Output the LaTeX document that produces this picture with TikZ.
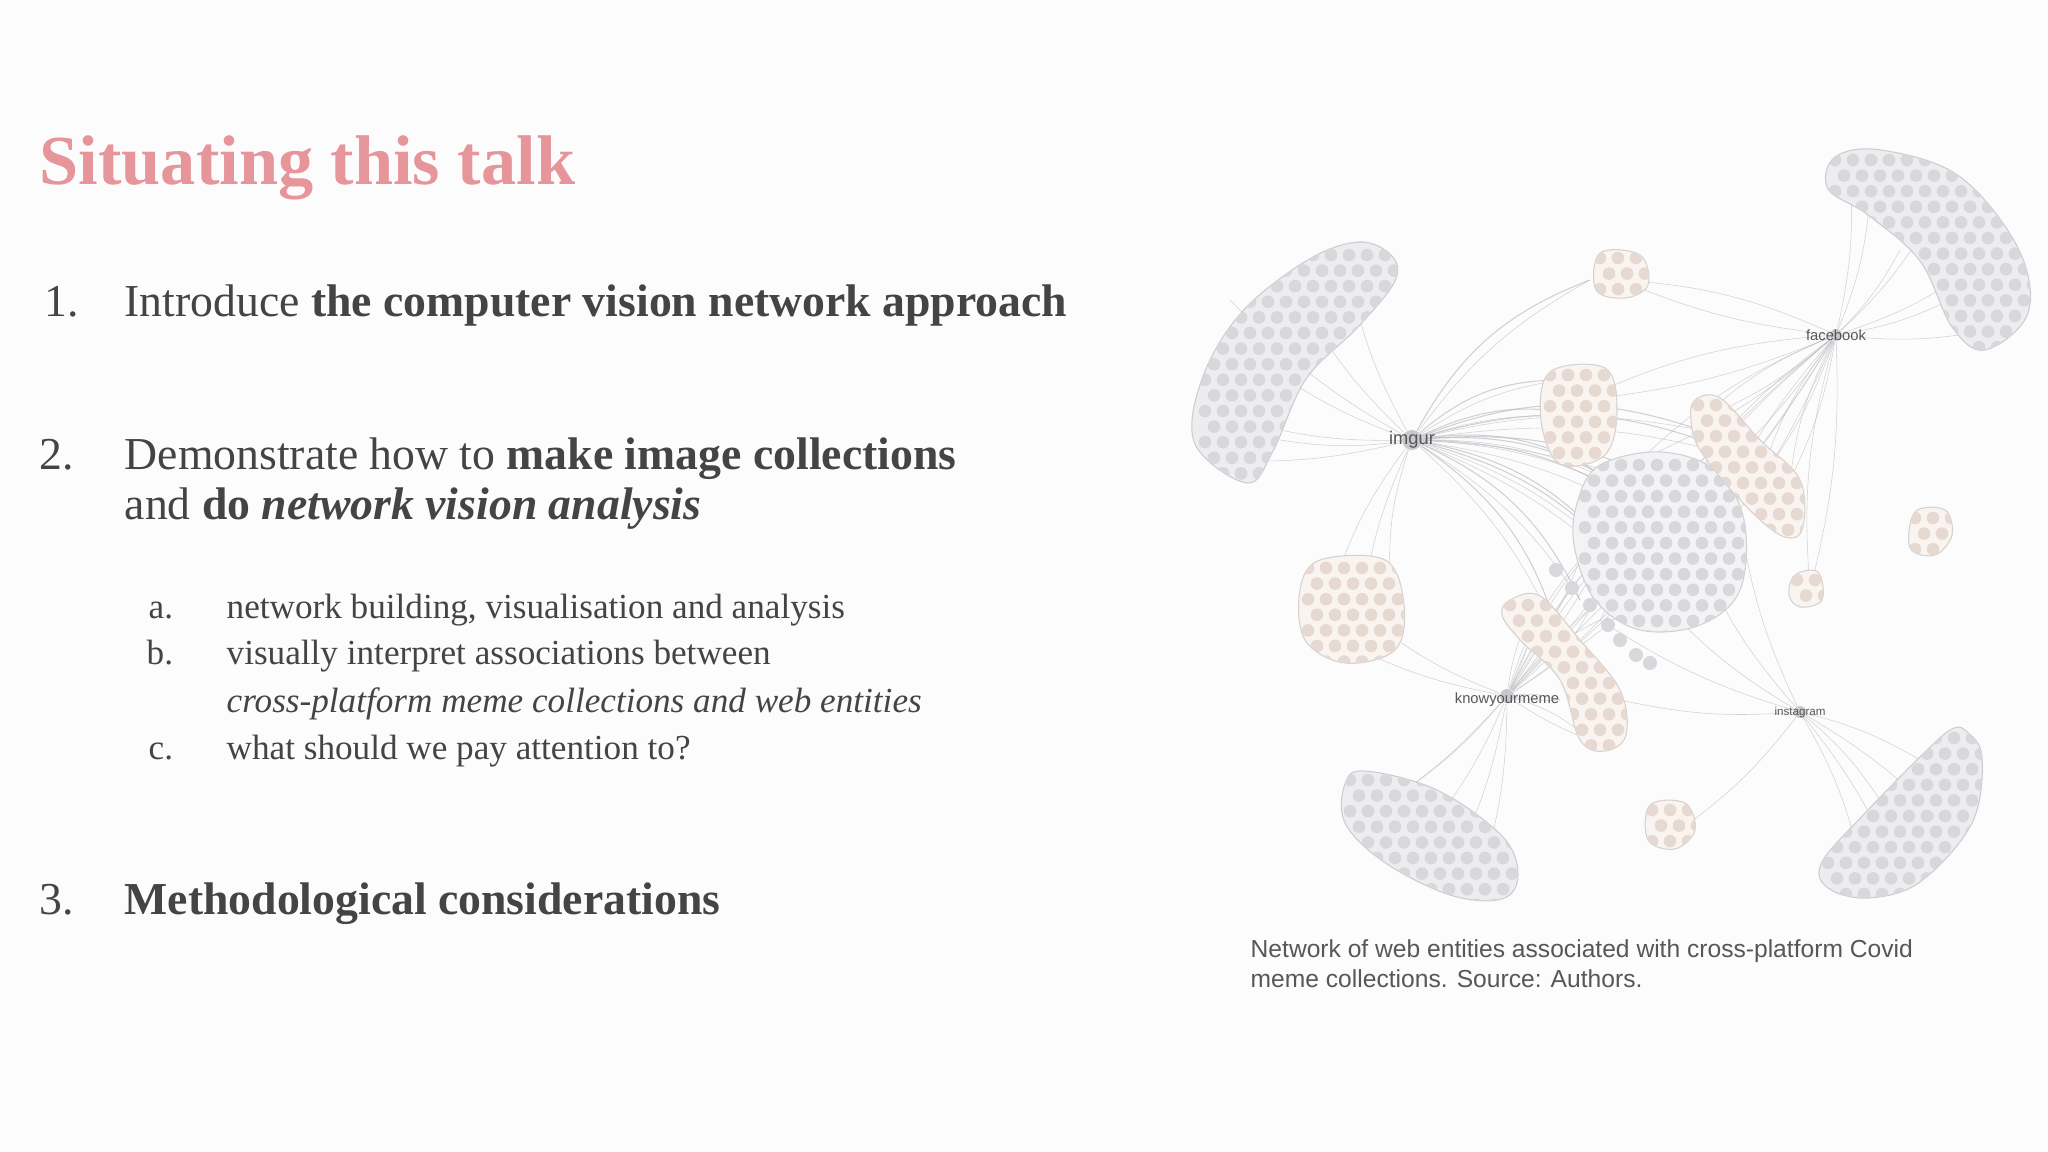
\documentclass[tikz,border=0pt]{standalone}
\usepackage{fontspec}
\setmainfont{Liberation Serif}
\newfontfamily\capfont{Liberation Sans}
\begin{document}
\begin{tikzpicture}[x=0.01cm,y=-0.01cm,
  txt/.style={anchor=base west,inner sep=0,text=textgray},
  edge/.style={draw=edgegray,line width=0.15pt,opacity=0.7},
  hub/.style={circle,fill=hubgray,minimum size=0.2cm,inner sep=0},
  hublab/.style={inner sep=0,text=textgray!90,font=\capfont}]
\definecolor{textgray}{HTML}{444444}
\definecolor{titlepink}{HTML}{E6959A}
\definecolor{bg}{HTML}{FDFCFD}
\definecolor{blobgray}{HTML}{EDEDEF}
\definecolor{blobcenter}{HTML}{F3F3F5}
\definecolor{dotgray}{HTML}{D8D8DC}
\definecolor{blobpink}{HTML}{FAF4F0}
\definecolor{dotpink}{HTML}{E6D9D2}
\definecolor{edgegray}{HTML}{BDBDC2}
\definecolor{hubgray}{HTML}{C9C9CD}
\fill[bg] (0,0) rectangle (2048,1152);
\useasboundingbox (0,0) rectangle (2048,1152);

% ---- text ----
\node[txt,text=titlepink,font=\fontsize{20}{24}\selectfont\bfseries] (title) at (39,185) {Situating this talk};
\begin{scope}[font=\fontsize{13}{16}\selectfont]
\node[txt] (n1) at (44,317) {1.};
\node[txt] (t1) at (124,317) {Introduce \textbf{the computer vision network approach}};
\node[txt] (n2) at (39,470) {2.};
\node[txt] (t2) at (124,470) {Demonstrate how to \textbf{make image collections}};
\node[txt] (t2b) at (124,520) {and \textbf{do \textit{network vision analysis}}};
\node[txt] (n3) at (39,914) {3.};
\node[txt] (t3) at (124,914) {\textbf{Methodological considerations}};
\end{scope}
\begin{scope}[font=\fontsize{10}{12}\selectfont]
\node[txt] (la) at (148,618) {a.};
\node[txt] (a) at (226,618) {network building, visualisation and analysis};
\node[txt] (lb) at (146,665) {b.};
\node[txt] (b) at (226,665) {visually interpret associations between};
\node[txt] (b2) at (226,712) {\textit{cross-platform meme collections and web entities}};
\node[txt] (lc) at (148,759) {c.};
\node[txt] (c) at (226,759) {what should we pay attention to?};
\end{scope}
\node[txt,font=\capfont\fontsize{7}{8}\selectfont,text=textgray!90] (cap1) at (1250,957) {Network of web entities associated with cross-platform Covid};
\node[txt,font=\capfont\fontsize{7}{8}\selectfont,text=textgray!90] (cap2) at (1250,987) {meme collections. Source: Authors.};

% ---- hubs ----
\node[hub] (imgur) at (1412,440) {};
\node[hub,minimum size=0.12cm] (facebook) at (1836,335) {};
\node[hub,minimum size=0.14cm] (kym) at (1507,696) {};
\node[hub,minimum size=0.12cm] (insta) at (1800,712) {};

% ---- edges ----
\foreach \a/\b in {1230/300,1260/360,1300/300,1240/420,1280/440,1350/280,1220/460}
  \draw[edge] (imgur) to[bend left=8] (\a,\b);
\foreach \a/\b in {1590/280,1560/380,1600/420,1640/500,1680/540,1620/560,1700/430,1750/460,1580/600,1560/640,1650/600,1610/480,1720/520}
  {\draw[edge] (imgur) to[bend left=12] (\a,\b); \draw[edge,line width=0.3pt] (imgur) to[bend left=20] (\a,\b);}
\foreach \a/\b in {1330/600,1360/640,1390/580}
  \draw[edge] (imgur) to[bend right=10] (\a,\b);
\foreach \a/\b in {1870/200,1900/250,1950/300,1990/330,1850/170,1930/220,1970/270}
  \draw[edge] (facebook) to[bend right=8] (\a,\b);
\foreach \a/\b in {1620/280,1580/400,1700/420,1760/480,1660/520,1700/560,1600/620,1560/660,1790/480,1640/460,1810/590}
  {\draw[edge] (facebook) to[bend right=10] (\a,\b); \draw[edge] (facebook) to[bend left=8] (\a,\b);}
\foreach \a/\b in {1390/800,1420/840,1450/870,1360/820,1480/880,1340/640,1370/620}
  \draw[edge] (kym) to[bend left=8] (\a,\b);
\foreach \a/\b in {1540/600,1580/560,1620/520,1660/500,1700/540,1600/620,1560/700,1590/740,1700/460,1740/440}
  {\draw[edge] (kym) to[bend left=12] (\a,\b); \draw[edge] (kym) to[bend right=6] (\a,\b);}
\foreach \a/\b in {1880/800,1920/760,1860/860,1950/830,1900/880,1680/830,1660/600,1700/560,1600/620,1740/520,1620/700}
  \draw[edge] (insta) to[bend left=8] (\a,\b);

% ---- blobs ----
\newcommand\myblob[6]{%
\begin{scope}
\path[fill=#1,draw=#1!70!gray,line width=0.3pt] plot[smooth cycle,tension=0.6] coordinates {\blobpath};
\clip plot[smooth cycle,tension=0.6] coordinates {\blobpath};
\pgfmathtruncatemacro\nr{(#6-#4)/15.6+1}
\pgfmathtruncatemacro\nc{(#5-#3)/18+1}
\foreach \r in {0,...,\nr}{\foreach \c in {0,...,\nc}{
  \pgfmathsetmacro\xx{#3+\c*18+mod(\r,2)*9}
  \pgfmathsetmacro\yy{#4+\r*15.6}
  \fill[#2] (\xx,\yy) circle[radius=1.8pt];}}
\end{scope}}

\def\blobpath{(1391,255) (1358,242) (1306,261) (1241,313) (1202,379) (1195,444) (1247,483) (1273,451) (1306,379) (1358,327) (1395,281)}
\myblob{blobgray}{dotgray}{1205}{255}{1395}{480}
\def\blobpath{(1835,157) (1881,150) (1959,176) (2018,248) (2028,313) (1985,350) (1952,327) (1920,261) (1868,215) (1828,189)}
\myblob{blobgray}{dotgray}{1835}{160}{2025}{350}
\def\blobpath{(1345,784) (1365,771) (1437,790) (1502,836) (1518,875) (1502,899) (1450,895) (1384,862) (1345,823)}
\myblob{blobgray}{dotgray}{1350}{780}{1515}{895}
\def\blobpath{(1966,731) (1982,757) (1972,823) (1920,882) (1868,898) (1828,888) (1822,862) (1868,810) (1926,751) (1952,729)}
\myblob{blobgray}{dotgray}{1828}{738}{1980}{895}
\def\blobpath{(1600,465) (1660,452) (1715,470) (1744,520) (1740,590) (1700,625) (1640,630) (1595,600) (1574,545) (1578,500)}
\myblob{blobcenter}{dotgray}{1585}{465}{1740}{625}
% pink clusters
\def\blobpath{(1320,560) (1385,560) (1404,605) (1395,650) (1345,663) (1305,640) (1300,590)}
\myblob{blobpink}{dotpink}{1308}{568}{1400}{660}
\def\blobpath{(1600,253) (1640,255) (1648,285) (1625,298) (1596,290)}
\myblob{blobpink}{dotpink}{1600}{258}{1645}{295}
\def\blobpath{(1550,372) (1605,368) (1617,410) (1605,455) (1560,464) (1541,420)}
\myblob{blobpink}{dotpink}{1550}{375}{1612}{460}
\def\blobpath{(1695,400) (1720,398) (1760,440) (1800,480) (1802,530) (1780,535) (1740,500) (1700,450) (1691,420)}
\myblob{blobpink}{dotpink}{1698}{405}{1798}{530}
\def\blobpath{(1915,512) (1945,510) (1952,535) (1935,555) (1910,548)}
\myblob{blobpink}{dotpink}{1915}{518}{1950}{552}
\def\blobpath{(1795,575) (1818,572) (1822,600) (1800,607) (1789,595)}
\myblob{blobpink}{dotpink}{1797}{580}{1820}{604}
\def\blobpath{(1510,600) (1540,596) (1580,640) (1620,690) (1626,735) (1605,751) (1580,740) (1560,680) (1520,640) (1502,615)}
\myblob{blobpink}{dotpink}{1510}{605}{1622}{748}
\def\blobpath{(1650,805) (1685,803) (1695,830) (1675,849) (1648,840)}
\myblob{blobpink}{dotpink}{1652}{810}{1692}{846}
% small gray dots near centre
\foreach \a/\b in {1556/570,1572/588,1590/605,1608/625,1620/640,1636/655,1650/663}
  \fill[dotgray] (\a,\b) circle[radius=2pt];

% ---- hub labels ----
\node[hublab,font=\capfont\fontsize{5.2}{6}\selectfont] (limgur) at (imgur) {imgur};
\node[hublab,font=\capfont\fontsize{4.2}{5}\selectfont] (lfb) at (facebook) {facebook};
\node[hublab,font=\capfont\fontsize{4.2}{5}\selectfont] (lkym) at (1507,700) {knowyourmeme};
\node[hublab,font=\capfont\fontsize{3.3}{4}\selectfont] (lin) at (insta) {instagram};
\end{tikzpicture}
\end{document}
